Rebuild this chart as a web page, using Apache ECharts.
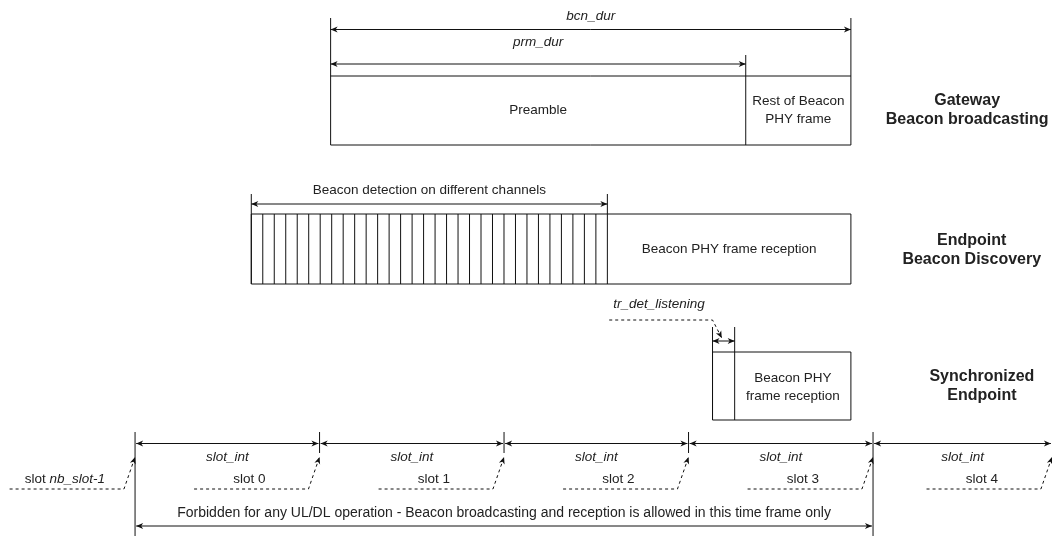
<!DOCTYPE html>
<html>
<head>
<meta charset="utf-8">
<script src="https://cdn.jsdelivr.net/npm/echarts@6/dist/echarts.min.js"></script>
<style>
  html, body { margin: 0; padding: 0; background: #fff; }
  #main { width: 1052px; height: 536px; }
</style>
</head>
<body>
<div id="main"></div>
<script>
// time unit: slot_int = 100
var slotBounds = [0, 100, 200, 300, 400, 497];
var slotNames = ['slot 0', 'slot 1', 'slot 2', 'slot 3', 'slot 4'];
var forbidden = [0, 400];

// gateway beacon: [start, end of preamble, end of beacon]
var gatewayTimes = [106, 331, 388];
var gatewayTexts = ['Preamble', 'Rest of Beacon\nPHY frame'];

// endpoint discovery: [start, end of detection, end of reception]
var discoveryTimes = [63, 256, 388];
var discoveryChannels = 31;

// synchronized endpoint: [start listening, start reception, end reception]
var syncTimes = [313, 325, 388];

var rowTitles = ['Gateway\nBeacon broadcasting', 'Endpoint\nBeacon Discovery', 'Synchronized\nEndpoint'];

var FONT = '"Liberation Sans", Arial, sans-serif';
var INK = '#111';
var FS = 13.5;

var myChart = echarts.init(document.getElementById('main'), null, { renderer: 'canvas' });

function line(p1, p2, dash) {
    return {
        type: 'line',
        shape: { x1: p1[0], y1: p1[1], x2: p2[0], y2: p2[1] },
        style: { stroke: INK, lineWidth: 1, lineDash: dash ? [3, 3] : null }
    };
}
function head(tip, from) {
    var dx = tip[0] - from[0], dy = tip[1] - from[1];
    var len = Math.sqrt(dx * dx + dy * dy) || 1;
    var ux = dx / len, uy = dy / len;
    var L = 7, W = 3;
    var bx = tip[0] - ux * L, by = tip[1] - uy * L;
    return {
        type: 'polygon',
        shape: { points: [tip, [bx - uy * W, by + ux * W], [bx + ux * 2, by + uy * 2], [bx + uy * W, by - ux * W]] },
        style: { fill: INK }
    };
}
function dblArrow(a, b) {
    return [line(a, b), head(a, b), head(b, a)];
}
function text(t, p, opt) {
    opt = opt || {};
    var st = {
        text: t, x: p[0], y: p[1], fill: '#222',
        font: (opt.italic ? 'italic ' : '') + (opt.bold ? 'bold ' : '') + (opt.size || FS) + 'px ' + FONT,
        align: opt.align || 'center', verticalAlign: 'middle', lineHeight: opt.lh || null
    };
    if (opt.rich) st.rich = opt.rich;
    return { type: 'text', style: st };
}
function rect(c1, c2) {
    return {
        type: 'rect',
        shape: { x: c1[0], y: c1[1], width: c2[0] - c1[0], height: c2[1] - c1[1] },
        style: { fill: 'none', stroke: INK, lineWidth: 1 }
    };
}

function renderGateway(params, api) {
    var t = gatewayTimes, c = function (x, y) { return api.coord([x, y]); };
    var els = [];
    els.push(text('bcn_dur', c((t[0] + t[2]) / 2, 16), { italic: true }));
    els = els.concat(dblArrow(c(t[0], 29.5), c(t[2], 29.5)));
    els.push(text('prm_dur', c((t[0] + t[1]) / 2, 42), { italic: true }));
    els = els.concat(dblArrow(c(t[0], 64), c(t[1], 64)));
    els.push(line(c(t[0], 18), c(t[0], 145)));
    els.push(line(c(t[2], 18), c(t[2], 145)));
    els.push(line(c(t[1], 55), c(t[1], 145)));
    els.push(line(c(t[0], 76), c(t[2], 76)));
    els.push(line(c(t[0], 145), c(t[2], 145)));
    els.push(text(gatewayTexts[0], c((t[0] + t[1]) / 2, 110)));
    els.push(text(gatewayTexts[1], c((t[1] + t[2]) / 2, 110), { lh: 18 }));
    return { type: 'group', children: els };
}

function renderDiscovery(params, api) {
    var t = discoveryTimes, c = function (x, y) { return api.coord([x, y]); };
    var els = [];
    els.push(text('Beacon detection on different channels', c((t[0] + t[1]) / 2, 190)));
    els = els.concat(dblArrow(c(t[0], 204), c(t[1], 204)));
    els.push(line(c(t[0], 194), c(t[0], 284)));
    els.push(line(c(t[1], 194), c(t[1], 284)));
    var step = (t[1] - t[0]) / discoveryChannels;
    for (var i = 1; i < discoveryChannels; i++) {
        els.push(line(c(t[0] + i * step, 214), c(t[0] + i * step, 284)));
    }
    els.push(rect(c(t[0], 214), c(t[2], 284)));
    els.push(text('Beacon PHY frame reception', c((t[1] + t[2]) / 2, 249)));
    return { type: 'group', children: els };
}

function renderSync(params, api) {
    var t = syncTimes, c = function (x, y) { return api.coord([x, y]); };
    var els = [];
    els.push(text('tr_det_listening', c(t[0] - 29, 304), { italic: true }));
    var p1 = c(t[0] - 56, 320), p2 = c(t[0], 320), p3 = c(t[0] + 5, 338);
    els.push({ type: 'polyline', shape: { points: [p1, p2, p3] }, style: { stroke: INK, fill: null, lineWidth: 1, lineDash: [3, 3] } });
    els.push(head(p3, p2));
    els.push(line(c(t[0], 327), c(t[0], 420)));
    els.push(line(c(t[1], 327), c(t[1], 420)));
    els = els.concat(dblArrow(c(t[0], 341), c(t[1], 341)));
    els.push(rect(c(t[0], 352), c(t[2], 420)));
    els.push(text('Beacon PHY\nframe reception', c((t[1] + t[2]) / 2, 387), { lh: 18 }));
    return { type: 'group', children: els };
}

function callout(c, bound, label, rich) {
    var els = [];
    var p1 = c(bound - 68, 489), p2 = c(bound - 6, 489), p3 = c(bound, 457);
    els.push({ type: 'polyline', shape: { points: [p1, p2, p3] }, style: { stroke: INK, fill: null, lineWidth: 1, lineDash: [3, 3] } });
    els.push(head(p3, p2));
    els.push(text(label, c(bound - 38, 479), rich ? { rich: rich } : null));
    return els;
}

function renderSlots(params, api) {
    var c = function (x, y) { return api.coord([x, y]); };
    var els = [];
    var b = slotBounds;
    for (var i = 0; i < b.length - 1; i++) {
        var bottom = (b[i] === forbidden[0] || b[i] === forbidden[1]) ? 536 : 453;
        els.push(line(c(b[i], 432), c(b[i], bottom)));
        els = els.concat(dblArrow(c(b[i] + 0.6, 443.5), c(b[i + 1] - 0.6, 443.5)));
        els.push(text('slot_int', c((b[i] + b[i + 1]) / 2, 457), { italic: true }));
    }
    els = els.concat(callout(c, b[0], 'slot {i|nb_slot-1}', { i: { fontStyle: 'italic', fontFamily: FONT, fontSize: FS, fill: '#222' } }));
    for (var k = 0; k < slotNames.length; k++) {
        els = els.concat(callout(c, b[k + 1], slotNames[k]));
    }
    els.push(text('Forbidden for any UL/DL operation - Beacon broadcasting and reception is allowed in this time frame only',
        c((forbidden[0] + forbidden[1]) / 2, 513), { size: 14 }));
    els = els.concat(dblArrow(c(forbidden[0] + 0.6, 526), c(forbidden[1] - 0.6, 526)));
    return { type: 'group', children: els };
}

// title column positions, in axis units
var titleX = [451, 453.5, 459];
var titleY = [110.5, 250, 386.5];
function renderTitles(params, api) {
    var els = [];
    for (var i = 0; i < rowTitles.length; i++) {
        els.push(text(rowTitles[i], api.coord([titleX[i], titleY[i]]), { bold: true, size: 16, lh: 19 }));
    }
    return { type: 'group', children: els };
}

var option = {
    animation: false,
    backgroundColor: '#fff',
    grid: { left: 0, right: 0, top: 0, bottom: 0 },
    xAxis: { type: 'value', min: -73.2, max: 497, show: false },
    yAxis: { type: 'value', min: 0, max: 536, inverse: true, show: false },
    series: [
        { type: 'custom', renderItem: renderGateway, data: [0], silent: true },
        { type: 'custom', renderItem: renderDiscovery, data: [0], silent: true },
        { type: 'custom', renderItem: renderSync, data: [0], silent: true },
        { type: 'custom', renderItem: renderSlots, data: [0], silent: true },
        { type: 'custom', renderItem: renderTitles, data: [0], silent: true }
    ]
};

myChart.setOption(option);
</script>
</body>
</html>
